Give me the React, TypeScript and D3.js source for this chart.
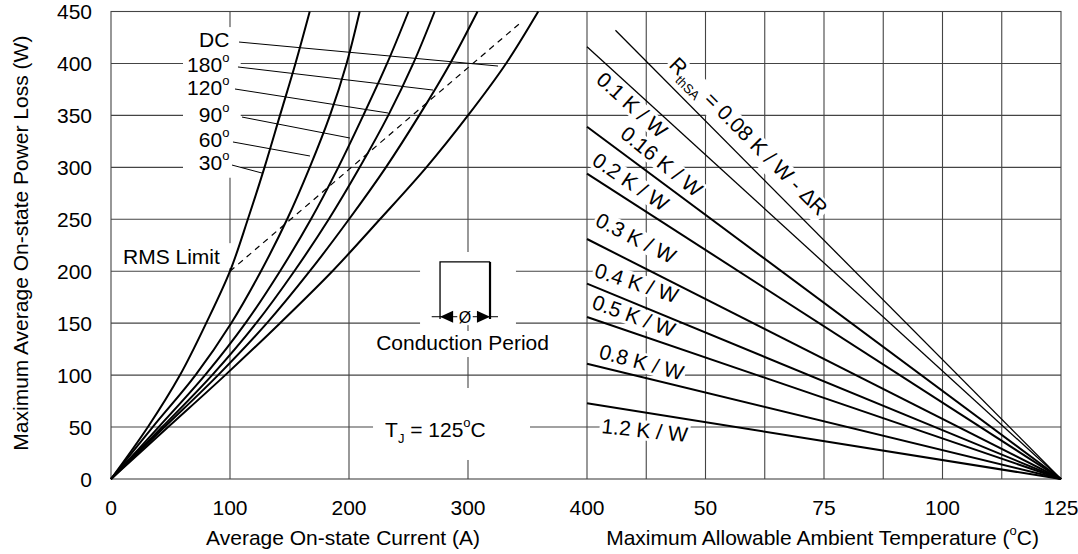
import * as React from "react"
import * as d3 from "d3"

// left panel: power loss levels (W) and the average current (A) read for each conduction angle
const powerLevels = [0, 50, 100, 150, 200, 250, 300, 350, 400, 450]
const current30 = [0, 31, 58, 80, 100, 115, 129, 142, 155, 167]
const current60 = [0, 35, 71, 101, 126, 148, 167, 184, 198, 209]
const current90 = [0, 40, 79, 113, 142, 168, 191, 212, 232, 250]
const current120 = [0, 43, 85, 122, 154, 183, 209, 233, 254, 272]
const current180 = [0, 45, 90, 131, 167, 200, 231, 259, 285, 308]
const currentDC = [0, 48, 96, 142, 186, 226, 265, 300, 332, 359]
const conductionSeries = [current30, current60, current90, current120, current180, currentDC]
const conductionNames = ["30", "60", "90", "120", "180", "DC"]

// RMS limit (dashed)
const rmsCurrent = [100, 200, 344]
const rmsPower = [200, 298, 439]

// right panel: heatsink thermal resistance lines, all ending at Tj = 125 C, 0 W
const rthNames = ["0.08", "0.1", "0.16", "0.2", "0.3", "0.4", "0.5", "0.8", "1.2"]
const rthStartTemp = [31, 25, 25, 25, 25, 25, 25, 25, 25]
const rthStartPower = [432, 416, 339, 294, 231, 188, 156, 111, 73]
const junctionTemp = 125

// ticks
const currentTicks = [0, 100, 200, 300, 400]
const tempTicks = [50, 75, 100, 125]
const powerTicks = [0, 50, 100, 150, 200, 250, 300, 350, 400, 450]

type Part = { t: string; sup?: boolean; sub?: boolean }

const FONT = "'Liberation Sans', Arial, Helvetica, sans-serif"

export default function App() {
  const svgRef = React.useRef<SVGSVGElement>(null)

  React.useEffect(() => {
    if (!svgRef.current) return
    const svg = d3.select(svgRef.current)
    svg.selectAll("*").remove()

    const xL = d3.scaleLinear().domain([0, 400]).range([111, 587])
    const xR = d3.scaleLinear().domain([25, 125]).range([587, 1061])
    const y = d3.scaleLinear().domain([0, 450]).range([479, 11.5])

    const root = svg.append("g").attr("font-family", FONT).attr("font-size", 21).attr("fill", "#000")

    // rich text with superscript / subscript parts
    const rich = (sel: d3.Selection<SVGTextElement, unknown, null, undefined>, parts: Part[]) => {
      let off = 0
      parts.forEach((p) => {
        const target = p.sup ? -10 : p.sub ? 6 : 0
        const ts = sel.append("tspan").text(p.t).attr("dy", target - off)
        if (p.sup || p.sub) ts.attr("font-size", 13)
        off = target
      })
      return sel
    }

    // grid
    const grid = root.append("g").attr("stroke", "#444").attr("stroke-width", 1.1)
    powerTicks.slice(1, -1).forEach((p) => {
      grid.append("line").attr("x1", xL(0)).attr("x2", xR(125)).attr("y1", y(p)).attr("y2", y(p))
    })
    currentTicks.slice(1, -1).forEach((c) => {
      grid.append("line").attr("x1", xL(c)).attr("x2", xL(c)).attr("y1", y(0)).attr("y2", y(450))
    })
    d3.range(37.5, 125, 12.5).forEach((t) => {
      grid.append("line").attr("x1", xR(t)).attr("x2", xR(t)).attr("y1", y(0)).attr("y2", y(450))
    })

    // white label backgrounds that break the grid
    const boxes = root.append("g").attr("fill", "#fff")
    const box = (i0: number, i1: number, p0: number, p1: number) =>
      boxes
        .append("rect")
        .attr("x", xL(i0))
        .attr("y", y(p1))
        .attr("width", xL(i1) - xL(i0))
        .attr("height", y(p0) - y(p1))
    box(60.5, 109, 290, 435) // angle labels
    box(5.9, 101.7, 203, 227) // RMS Limit
    box(259.7, 340.3, 148.1, 218.5) // conduction symbol
    box(217.6, 373.1, 117.4, 142.5) // Conduction Period
    box(220.2, 352.1, 18.3, 87.6) // Tj

    // rotated labels of the right panel
    const rthPos = [
      { t: 42.1, p: 397.5, a: 45 },
      { t: 26.7, p: 382.6, a: 42 },
      { t: 31.75, p: 330, a: 39 },
      { t: 25.8, p: 303.4, a: 34 },
      { t: 26.5, p: 244.5, a: 27 },
      { t: 26.3, p: 194.8, a: 18 },
      { t: 25.8, p: 164.6, a: 20 },
      { t: 27.3, p: 116.5, a: 15 },
      { t: 27.95, p: 44.3, a: 6 },
    ]
    const rthLabelLayer = root.append("g")
    rthNames.forEach((name, i) => {
      const pos = rthPos[i]
      const g = rthLabelLayer
        .append("g")
        .attr("transform", `translate(${xR(pos.t)},${y(pos.p)}) rotate(${pos.a})`)
      const bg = g.append("rect").attr("fill", "#fff")
      const txt = g.append("text")
      if (i === 0) {
        rich(txt, [{ t: "R" }, { t: "thSA", sub: true }, { t: ` = ${name} K / W - \u0394R` }])
      } else {
        txt.text(`${name} K / W`)
      }
      const bb = (txt.node() as SVGTextElement).getBBox()
      bg.attr("x", bb.x - 2).attr("y", bb.y + 2).attr("width", bb.width + 4).attr("height", bb.height - 3)
    })

    // frame and panel divider
    const frame = root.append("g").attr("stroke", "#444").attr("stroke-width", 1.1).attr("fill", "none")
    frame
      .append("rect")
      .attr("x", xL(0))
      .attr("y", y(450))
      .attr("width", xR(125) - xL(0))
      .attr("height", y(0) - y(450))
    frame.append("line").attr("x1", xL(400)).attr("x2", xL(400)).attr("y1", y(0)).attr("y2", y(450))

    // conduction angle curves
    const curve = d3
      .line<[number, number]>()
      .x((d) => xL(d[0]))
      .y((d) => y(d[1]))
      .curve(d3.curveCatmullRom.alpha(0.5))
    conductionSeries.forEach((cur) => {
      root
        .append("path")
        .attr("d", curve(cur.map((c, i) => [c, powerLevels[i]] as [number, number])))
        .attr("fill", "none")
        .attr("stroke", "#000")
        .attr("stroke-width", 2)
    })

    // RMS limit
    root
      .append("path")
      .attr("d", curve(rmsCurrent.map((c, i) => [c, rmsPower[i]] as [number, number])))
      .attr("fill", "none")
      .attr("stroke", "#000")
      .attr("stroke-width", 1.2)
      .attr("stroke-dasharray", "6,5")

    // thermal resistance lines
    rthNames.forEach((_, i) => {
      root
        .append("line")
        .attr("x1", xR(rthStartTemp[i]))
        .attr("y1", y(rthStartPower[i]))
        .attr("x2", xR(junctionTemp))
        .attr("y2", y(0))
        .attr("stroke", "#000")
        .attr("stroke-width", i < 2 ? 1.3 : 2)
    })

    // angle labels and leader lines
    const labelBase = [415.8, 391.8, 369.6, 343.6, 319.6, 297.4]
    const leaders = [
      [107.6, 420.6, 325.2, 397.5],
      [106.7, 396.6, 270.6, 374.4],
      [104.2, 375.4, 232.8, 352.3],
      [110.1, 348.4, 200.8, 328.2],
      [102.5, 324.4, 167.2, 310.9],
      [101.7, 302.2, 126.9, 294.5],
    ]
    const angleOrder = [5, 4, 3, 2, 1, 0]
    angleOrder.forEach((k, row) => {
      const name = conductionNames[k]
      const t = root.append("text").attr("x", xL(99.5)).attr("y", y(labelBase[row])).attr("text-anchor", "end")
      if (name === "DC") t.text("DC")
      else rich(t, [{ t: name }, { t: "o", sup: true }])
      const l = leaders[row]
      root
        .append("line")
        .attr("x1", xL(l[0]))
        .attr("y1", y(l[1]))
        .attr("x2", xL(l[2]))
        .attr("y2", y(l[3]))
        .attr("stroke", "#000")
        .attr("stroke-width", 1)
    })

    root.append("text").attr("x", xL(10.1)).attr("y", y(207)).text("RMS Limit")

    // conduction period symbol
    const sym = root.append("g").attr("stroke", "#000").attr("fill", "none")
    sym
      .append("path")
      .attr("d", `M${xL(276.5)},${y(154)}V${y(209)}H${xL(318.5)}`)
      .attr("stroke-width", 1.3)
    sym
      .append("line")
      .attr("x1", xL(318.5))
      .attr("x2", xL(318.5))
      .attr("y1", y(209))
      .attr("y2", y(154))
      .attr("stroke-width", 2.2)
    sym
      .append("line")
      .attr("x1", xL(269.5))
      .attr("x2", xL(291))
      .attr("y1", y(156.2))
      .attr("y2", y(156.2))
    sym
      .append("line")
      .attr("x1", xL(304))
      .attr("x2", xL(325.2))
      .attr("y1", y(156.2))
      .attr("y2", y(156.2))
    const ay = y(156.2)
    root
      .append("path")
      .attr("d", `M${xL(276.5)},${ay}L${xL(287.5)},${ay - 6}V${ay + 6}Z`)
      .attr("fill", "#000")
    root
      .append("path")
      .attr("d", `M${xL(318.5)},${ay}L${xL(307.5)},${ay - 6}V${ay + 6}Z`)
      .attr("fill", "#000")
    root
      .append("text")
      .attr("x", xL(297.5))
      .attr("y", ay + 6)
      .attr("text-anchor", "middle")
      .attr("font-size", 16)
      .text("\u00D8")
    root
      .append("text")
      .attr("x", xL(295.4))
      .attr("y", y(124.2))
      .attr("text-anchor", "middle")
      .text("Conduction Period")

    // Tj note
    rich(root.append("text").attr("x", xL(230.3)).attr("y", y(40.4)), [
      { t: "T" },
      { t: "J", sub: true },
      { t: " = 125" },
      { t: "o", sup: true },
      { t: "C" },
    ])

    // tick labels
    const ticks = root.append("g")
    currentTicks.forEach((c) => {
      ticks.append("text").attr("x", xL(c)).attr("y", 515).attr("text-anchor", "middle").text(c)
    })
    tempTicks.forEach((t) => {
      ticks.append("text").attr("x", xR(t)).attr("y", 515).attr("text-anchor", "middle").text(t)
    })
    powerTicks.forEach((p) => {
      ticks.append("text").attr("x", 92).attr("y", y(p) + 7.5).attr("text-anchor", "end").text(p)
    })

    // axis titles
    root
      .append("text")
      .attr("x", xL(195))
      .attr("y", 545)
      .attr("text-anchor", "middle")
      .text("Average On-state Current (A)")
    rich(
      root.append("text").attr("x", xR(74.7)).attr("y", 545).attr("text-anchor", "middle"),
      [{ t: "Maximum Allowable Ambient Temperature (" }, { t: "o", sup: true }, { t: "C)" }]
    )
    root
      .append("text")
      .attr("transform", `translate(28,${y(227)}) rotate(-90)`)
      .attr("text-anchor", "middle")
      .text("Maximum Average On-state Power Loss (W)")

    return () => {
      svg.selectAll("*").remove()
    }
  }, [])

  return (
    <svg
      ref={svgRef}
      width={1078}
      height={554}
      viewBox="0 0 1078 554"
      style={{ position: "absolute", left: 0, top: 0, background: "#fff" }}
    />
  )
}
